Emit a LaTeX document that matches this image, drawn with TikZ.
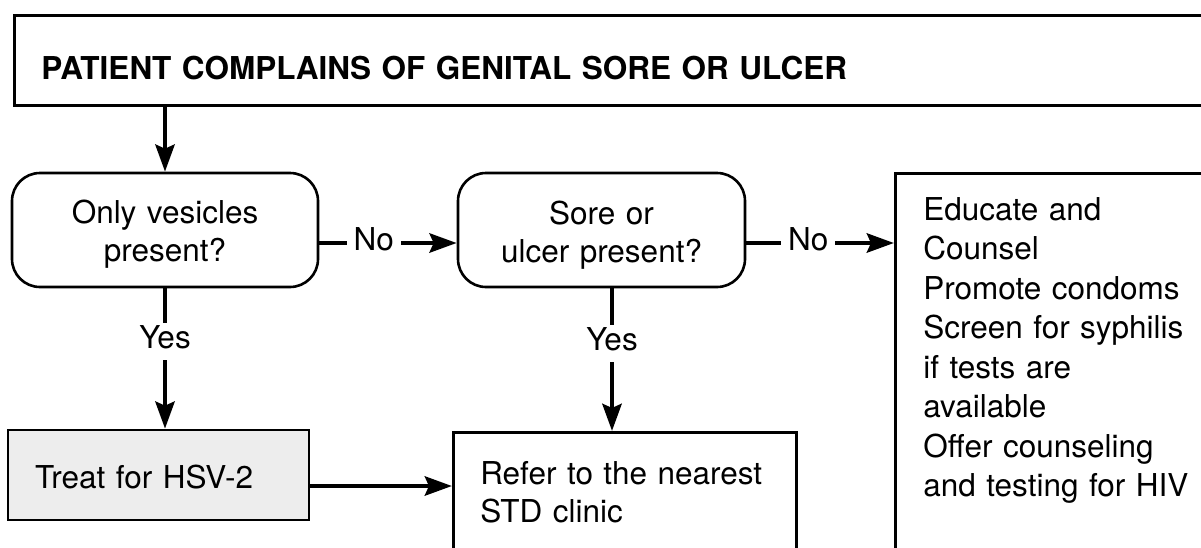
\documentclass[tikz,border=0pt]{standalone}
\usepackage{fontspec}
\setmainfont{TeX Gyre Heros}
\usetikzlibrary{arrows.meta}
\definecolor{boxgray}{HTML}{EDEDED}
\tikzset{
  box/.style={draw, rectangle, line width=2.6pt, inner ysep=0pt},
  decision/.style={box, rounded corners=28pt, align=center},
  arr/.style={line width=4.8pt, -{Stealth[length=27pt, width=19pt, inset=4pt]}},
  lbl/.style={fill=white, inner xsep=7pt, inner ysep=3.5pt,
              text height=22pt, text depth=8pt},
}
\begin{document}
\begin{tikzpicture}[x=1pt, y=-1pt, font=\fontsize{31.5}{38}\selectfont]
\useasboundingbox (0,0) rectangle (1201,547);
\clip (0,0) rectangle (1201,547);

% heading box, running off the right edge
\node[box, anchor=north west, minimum width=1210pt, minimum height=90pt,
      text width=1156pt, inner xsep=27pt, align=left,
      text height=38pt, text depth=0pt,
      font=\fontsize{31.5}{38}\selectfont\bfseries] (top) at (13,14)
  {PATIENT COMPLAINS OF GENITAL SORE OR ULCER};

% decisions
\node[decision, minimum width=306pt, minimum height=114pt,
      text width=250pt, inner xsep=28pt,
      text height=20pt, text depth=33pt] (b1) at (165,230)
  {Only vesicles\\present?};
\node[decision, minimum width=287pt, minimum height=114pt,
      text width=231pt, inner xsep=28pt,
      text height=20pt, text depth=32pt] (b2) at (601.5,230)
  {Sore or\\ulcer present?};

% actions
\node[box, fill=boxgray, minimum width=301pt, minimum height=90pt,
      text width=247pt, inner xsep=27pt, align=left,
      text height=26pt, text depth=0pt] (treat) at (158.5,475)
  {Treat for HSV-2};
\node[box, anchor=north west, minimum height=130pt,
      text width=289pt, inner xsep=27pt, align=left,
      text height=20pt, text depth=46pt] (refer) at (452,431)
  {\makebox[\linewidth][s]{Refer to the nearest}\\STD clinic};
\node[box, anchor=north west, minimum height=390pt,
      text width=300pt, inner xsep=28pt, align=left,
      text height=22pt, text depth=318pt,
      font=\fontsize{31.5}{39.5}\selectfont] (edu) at (894,172)
  {Educate and\\Counsel\\Promote condoms\\Screen for syphilis\\if tests are\\available\\Offer counseling\\and testing for HIV};

% connectors
\draw[arr] (top.south -| b1.north) -- (b1.north);
\draw[arr] ([yshift=-13pt]b1.east) -- ([yshift=-13pt]b1.east -| b2.west)
  node[lbl, pos=0.396] {No};
\draw[arr] ([yshift=-13pt]b2.east) -- ([yshift=-13pt]b2.east -| edu.west)
  node[lbl, pos=0.42] {No};
\draw[arr] (b1.south) -- (b1.south |- treat.north)
  node[lbl, pos=0.378] {Yes};
\draw[arr] ([xshift=10.5pt]b2.south) -- ([xshift=10.5pt]b2.south |- refer.north)
  node[lbl, pos=0.39] {Yes};
\draw[arr] ([yshift=-11pt]treat.east) -- ([yshift=-11pt]treat.east -| refer.west);
\end{tikzpicture}
\end{document}
